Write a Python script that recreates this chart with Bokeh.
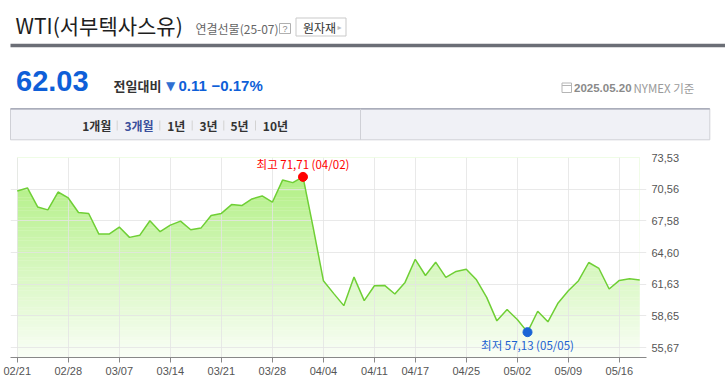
from bokeh.plotting import figure
from bokeh.models import Range1d, FixedTicker, CustomJSTickFormatter, Label
from bokeh.layouts import column
from bokeh.embed import file_html
from bokeh.resources import INLINE

# ---------------- data ----------------
dates = [
    "02/21", "02/24", "02/25", "02/26", "02/27", "02/28",
    "03/03", "03/04", "03/05", "03/06", "03/07",
    "03/10", "03/11", "03/12", "03/13", "03/14",
    "03/17", "03/18", "03/19", "03/20", "03/21",
    "03/24", "03/25", "03/26", "03/27", "03/28",
    "03/31", "04/01", "04/02", "04/03", "04/04",
    "04/07", "04/08", "04/09", "04/10", "04/11",
    "04/14", "04/15", "04/16", "04/17",
    "04/21", "04/22", "04/23", "04/24", "04/25",
    "04/28", "04/29", "04/30", "05/01", "05/02",
    "05/05", "05/06", "05/07", "05/08", "05/09",
    "05/12", "05/13", "05/14", "05/15", "05/16",
    "05/19", "05/20",
]
prices = [
    70.39, 70.67, 68.89, 68.61, 70.29, 69.73,
    68.37, 68.27, 66.34, 66.34, 67.00,
    66.03, 66.22, 67.59, 66.56, 67.18,
    67.56, 66.75, 66.90, 68.09, 68.28,
    69.11, 69.02, 69.64, 69.92, 69.33,
    71.41, 71.17, 71.71, 66.95, 61.96,
    60.77, 59.62, 62.30, 60.09, 61.49,
    61.52, 60.71, 61.80, 63.97,
    62.45, 63.70, 62.27, 62.83, 63.04,
    62.05, 60.40, 58.19, 59.25, 58.32,
    57.13, 59.09, 58.10, 59.87, 61.02,
    61.96, 63.67, 63.11, 61.18, 61.99,
    62.14, 62.03,
]
x_tick_dates = ["02/21", "02/28", "03/07", "03/14", "03/21", "03/28", "04/04",
                "04/11", "04/17", "04/25", "05/02", "05/09", "05/16"]
y_ticks = [55.67, 58.65, 61.63, 64.60, 67.58, 70.56, 73.53]
tabs = ["1개월", "3개월", "1년", "3년", "5년", "10년"]

title_text = "WTI(서부텍사스유)"
subtitle_text = "연결선물(25-07)"
last_price = "62.03"
change_abs = "0.11"
change_pct = "−0.17%"
as_of = "2025.05.20"
exchange = "NYMEX 기준"

KR = "Noto Sans CJK KR"
NUM = "Liberation Sans"

# ---------------- header (pixel space = page coords) ----------------
W = 725
HH = 145
h = figure(width=W, height=HH, x_range=Range1d(0, W), y_range=Range1d(HH, 0),
           output_backend="svg", toolbar_location=None, min_border=0,
           x_axis_location=None, y_axis_location=None)
h.grid.visible = False
h.outline_line_color = None
h.frame_align = False


def txt(fig, x, y, t, size, color, font=KR, style="normal", align="left"):
    fig.add_layout(Label(x=x, y=y, text=t, text_font_size=size, text_color=color,
                         text_font=font, text_font_style=style, text_align=align,
                         text_baseline="middle"))


txt(h, 15, 24, title_text, "21px", "#1e1e1e")
txt(h, 195, 27.5, subtitle_text, "12px", "#666666")
# ? box
h.quad(left=[279], right=[290], top=[23], bottom=[33], fill_color="white", line_color="#b0b0b0")
txt(h, 284.5, 28, "?", "9px", "#888888", font=NUM, align="center")
# button
h.quad(left=[295.5], right=[345.5], top=[17.5], bottom=[35.5], fill_color="white", line_color="#c9c9c9")
txt(h, 302.5, 26.5, "원자재", "12px", "#333333")
txt(h, 337, 26.5, "▸", "8px", "#bbbbbb", font="DejaVu Sans")
# thick rule
h.quad(left=[10], right=[W], top=[43.3], bottom=[46.7], fill_color="#6b6e76", line_color=None)

# price block
txt(h, 15.5, 80.5, last_price, "29px", "#0e5fd8", font=NUM, style="bold")
txt(h, 113, 85, "전일대비", "13px", "#333333", style="bold")
txt(h, 165.5, 85.5, "▼", "12px", "#2f6fd2", font="DejaVu Sans")
txt(h, 178, 85, change_abs, "15px", "#0e5fd8", font=NUM, style="bold")
txt(h, 211, 85, change_pct, "15px", "#0e5fd8", font=NUM, style="bold")

# as-of
h.quad(left=[561.5], right=[571], top=[82.5], bottom=[92], fill_color="white", line_color="#b5b5b5")
h.segment(x0=[561.5], y0=[85], x1=[571], y1=[85], line_color="#b5b5b5")
txt(h, 573.5, 87.3, as_of, "11.5px", "#8a8a8a", font=NUM, style="bold")
txt(h, 633, 87.3, exchange, "11.5px", "#9a9a9a")

# tab bar
h.quad(left=[10], right=[709.3], top=[108.3], bottom=[139.3], fill_color="#f0f1f6", line_color="#cfd0d6")
h.segment(x0=[10], y0=[108.3], x1=[709.3], y1=[108.3], line_color="#9a9dad", line_width=1.2)
h.segment(x0=[360], y0=[108.3], x1=[360], y1=[139.3], line_color="#cfd0d6")
tab_x = [81.7, 124, 166.7, 199, 230, 262.3]
sep_x = [116.7, 159.3, 191.7, 223.3, 255]
for tx, t in zip(tab_x, tabs):
    txt(h, tx, 125, t, "12px", "#3b4f9c" if t == "3개월" else "#333333", style="bold")
h.segment(x0=sep_x, y0=[120] * 5, x1=sep_x, y1=[130] * 5, line_color="#d2d2d2")

# ---------------- chart ----------------
idx = list(range(len(prices)))
y_lo, y_hi = 54.75, 73.53
p = figure(width=W, height=243, x_range=Range1d(-0.66, len(prices) - 1 + 0.66),
           y_range=Range1d(y_lo, y_hi), output_backend="svg", toolbar_location=None,
           y_axis_location="right", min_border_left=10, min_border_right=79,
           min_border_top=12, min_border_bottom=31)
p.outline_line_color = None
p.frame_align = False

# gradient fill emulation: horizontal colour bands, then white mask above the line
nb = 60
top_c = (170, 238, 120)
bot_c = (250, 254, 247)
lefts, rights, bots, tops, cols = [], [], [], [], []
for k in range(nb):
    b = y_lo + (y_hi - y_lo) * k / nb
    t = y_lo + (y_hi - y_lo) * (k + 1) / nb + 0.03
    f = (k + 0.5) / nb  # fraction from bottom
    c = tuple(int(round(bot_c[j] + (top_c[j] - bot_c[j]) * f)) for j in range(3))
    lefts.append(idx[0]); rights.append(idx[-1]); bots.append(b); tops.append(t)
    cols.append("#%02x%02x%02x" % c)
p.quad(left=lefts, right=rights, bottom=bots, top=tops, fill_color=cols, line_color=None, level="image")
p.varea(x=idx, y1=prices, y2=[y_hi + 1] * len(idx), fill_color="white", level="image")

p.line(idx, prices, line_color="#6fcf35", line_width=1.5)

imax = prices.index(max(prices))
imin = prices.index(min(prices))
p.scatter([idx[imax]], [prices[imax]], size=9, fill_color="#ff0000", line_color="#ff0000")
p.scatter([idx[imin]], [prices[imin]], size=9, fill_color="#1a64d6", line_color="#1a64d6")


def fmt(v):
    return ("%.2f" % v).replace(".", ",")


p.add_layout(Label(x=idx[imax], y=prices[imax], y_offset=13,
                   text="최고 %s (%s)" % (fmt(prices[imax]), dates[imax]),
                   text_align="center", text_baseline="middle", text_color="#ff0000",
                   text_font=KR, text_font_size="11.5px"))
p.add_layout(Label(x=idx[imin], y=prices[imin], y_offset=-13,
                   text="최저 %s (%s)" % (fmt(prices[imin]), dates[imin]),
                   text_align="center", text_baseline="middle", text_color="#1a5fd0",
                   text_font=KR, text_font_size="11.5px"))

tick_idx = [dates.index(d) for d in x_tick_dates]
p.xaxis.ticker = FixedTicker(ticks=tick_idx)
p.xaxis.major_label_overrides = {i: d for i, d in zip(tick_idx, x_tick_dates)}
p.xaxis.axis_line_color = "#888888"
p.xaxis.major_tick_line_color = "#888888"
p.xaxis.major_tick_out = 5
p.xaxis.major_tick_in = 0
p.xaxis.minor_tick_line_color = None
p.xaxis.major_label_standoff = 2
p.xaxis.major_label_text_font = NUM
p.xaxis.major_label_text_font_size = "11px"
p.xaxis.major_label_text_color = "#555555"

p.yaxis.ticker = FixedTicker(ticks=y_ticks)
p.yaxis.formatter = CustomJSTickFormatter(code="return tick.toFixed(2).replace('.', ',');")
p.yaxis.axis_line_color = None
p.yaxis.major_tick_line_color = None
p.yaxis.minor_tick_line_color = None
p.yaxis.major_tick_out = 0
p.yaxis.major_tick_in = 0
p.yaxis.minor_tick_out = 0
p.yaxis.major_label_standoff = 5
p.yaxis.major_label_text_font = NUM
p.yaxis.major_label_text_font_size = "11px"
p.yaxis.major_label_text_color = "#555555"

p.grid.grid_line_color = "#e4e4e4"
p.grid.grid_line_alpha = 0.8
p.grid.grid_line_width = 1

layout = column(h, p, spacing=0)
open("out.html", "w").write(file_html(layout, INLINE))
